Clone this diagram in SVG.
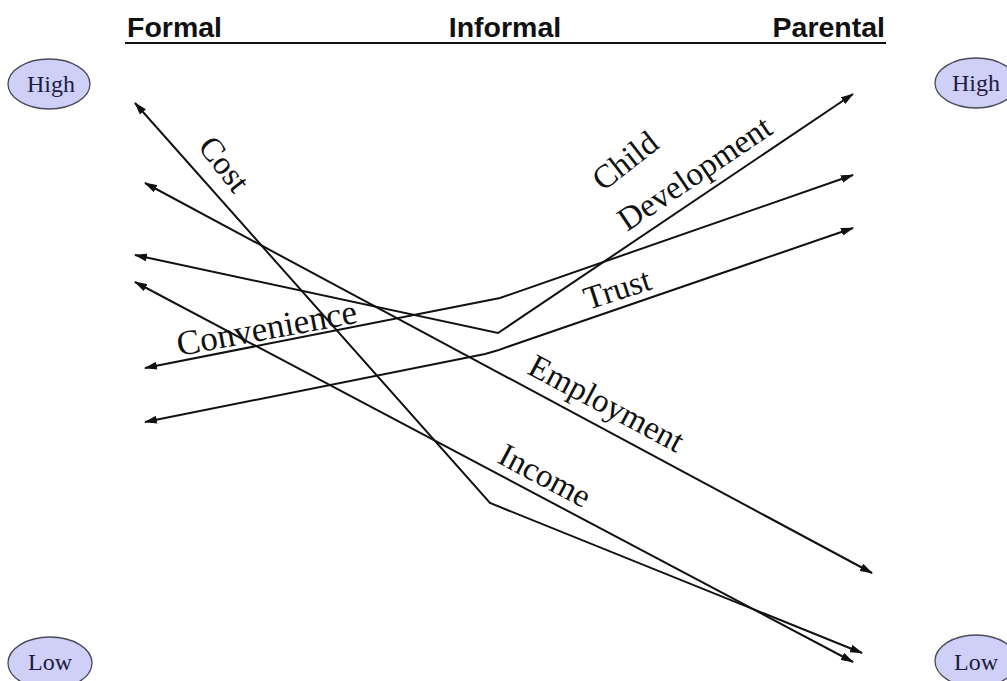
<svg xmlns="http://www.w3.org/2000/svg" width="1007" height="681" viewBox="0 0 1007 681">
  <style>
    .hdr { font-family: "Liberation Sans", Arial, sans-serif; font-weight: bold; font-size: 28.5px; fill: #111; }
    .lvl { fill: #cfcff7; stroke: #4a4a5a; stroke-width: 1.3; }
    .lvt { font-family: "Liberation Serif", "Times New Roman", serif; font-size: 24px; fill: #1c1c40; text-anchor: middle; }
    .ln { fill: none; stroke: #111; stroke-width: 2; stroke-linejoin: miter; marker-start: url(#ah); marker-end: url(#ah); }
    .lab { font-family: "Liberation Serif", "Times New Roman", serif; font-size: 33px; fill: #111; }
  </style>
  <defs>
    <marker id="ah" markerUnits="userSpaceOnUse" markerWidth="13" markerHeight="8" refX="12" refY="4" orient="auto-start-reverse" viewBox="0 0 13 8">
      <path d="M0,0 L13,4 L0,8 z" fill="#111"/>
    </marker>
  </defs>
  <rect width="1007" height="681" fill="#fff"/>

  <g id="header">
    <text class="hdr" x="127" y="37">Formal</text>
    <text class="hdr" x="505" y="37" text-anchor="middle">Informal</text>
    <text class="hdr" x="885" y="37" text-anchor="end">Parental</text>
    <line x1="125" y1="43" x2="886" y2="43" stroke="#111" stroke-width="2"/>
  </g>

  <g id="high-left">
    <ellipse class="lvl" cx="49" cy="84" rx="41" ry="25"/>
    <text class="lvt" x="51" y="92">High</text>
  </g>
  <g id="high-right">
    <ellipse class="lvl" cx="976" cy="83" rx="41" ry="25"/>
    <text class="lvt" x="976" y="91">High</text>
  </g>
  <g id="low-left">
    <ellipse class="lvl" cx="50" cy="663" rx="42" ry="26"/>
    <text class="lvt" x="50" y="670">Low</text>
  </g>
  <g id="low-right">
    <ellipse class="lvl" cx="976" cy="661" rx="41" ry="26"/>
    <text class="lvt" x="976" y="670">Low</text>
  </g>

  <g id="connectors">
    <polyline id="cost" class="ln" points="135,103 490,503 862,653"/>
    <polyline id="employment" class="ln" points="145,183 872,573"/>
    <polyline id="child-development" class="ln" points="135,255 498,333 853,94"/>
    <polyline id="income" class="ln" points="135,282 853,662"/>
    <polyline id="convenience" class="ln" points="145,368 500,298 853,175"/>
    <path id="trust" class="ln" d="M145,422 L485,354 Q498,351 510,346 L853,228"/>
  </g>

  <g id="labels">
    <text class="lab" transform="translate(197,147) rotate(52)">Cost</text>
    <text class="lab" transform="translate(603,192) rotate(-38)">Child</text>
    <text class="lab" transform="translate(627,232) rotate(-34)">Development</text>
    <text class="lab" transform="translate(588,310) rotate(-18)">Trust</text>
    <text class="lab" transform="translate(179,356) rotate(-10.5)" style="font-size:35px">Convenience</text>
    <text class="lab" transform="translate(526,373) rotate(28)">Employment</text>
    <text class="lab" transform="translate(496,462) rotate(28)">Income</text>
  </g>
</svg>
